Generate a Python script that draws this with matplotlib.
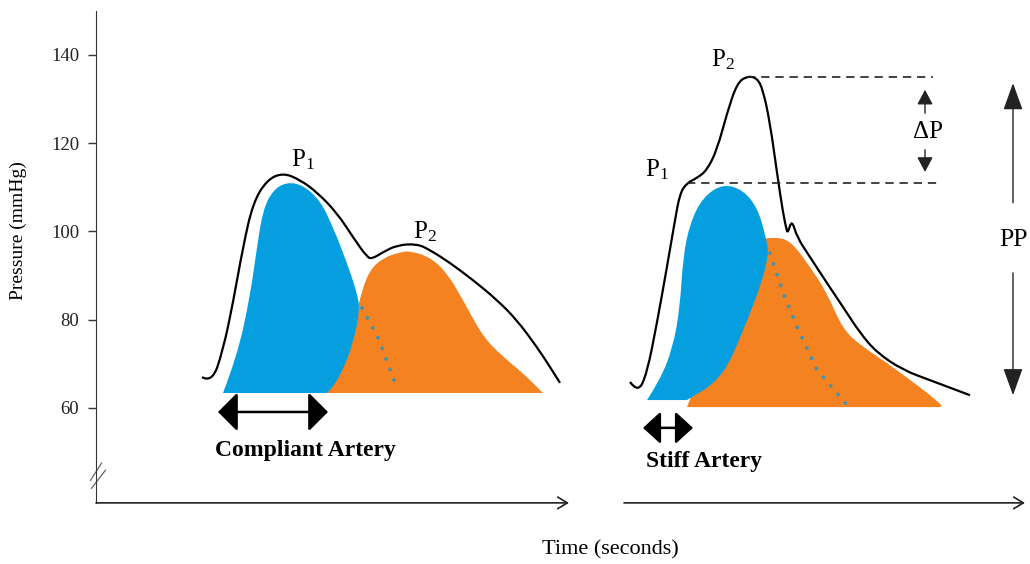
import matplotlib
matplotlib.use('Agg')
import matplotlib.pyplot as plt
from matplotlib.path import Path
from matplotlib.patches import PathPatch

plt.rcParams['font.family'] = ['Liberation Serif', 'DejaVu Serif']
plt.rcParams['mathtext.fontset'] = 'stix'

# time in ms (arbitrary schematic units), pressure in mmHg
# compliant artery
comp_t = [212, 232, 254, 274, 294, 314, 342, 374, 408, 442, 482, 514, 542, 552,
          574, 602, 642, 668, 708, 754, 802, 842, 882, 908, 928]
comp_p = [67.0, 65.7, 73.1, 83.8, 96.5, 106.5, 111.7, 113.3, 111.7, 108.9, 104.2, 98.7,
          94.2, 93.8, 95.3, 96.9, 97.2, 95.8, 92.9, 89.0, 84.5, 79.9, 73.8, 69.3, 65.7]
comp_fwd_t = [254, 282, 308, 322, 334, 354, 382, 414, 448, 474, 502, 522, 528, 514, 494, 474, 462]
comp_fwd_p = [63.4, 71.6, 85.2, 96.5, 104.9, 109.4, 111.2, 110.5, 107.1, 101.0, 92.9, 86.1,
              82.2, 74.7, 68.6, 64.8, 63.4]
comp_ref_t = [462, 488, 518, 532, 548, 574, 608, 628, 668, 702, 734, 774, 814, 854, 894]
comp_ref_p = [63.4, 68.6, 79.9, 86.7, 91.3, 94.0, 95.3, 95.6, 94.2, 90.6, 84.5, 76.1,
              71.6, 67.9, 63.4]
comp_dot_t = [532, 566, 602]
comp_dot_p = [82.7, 75.5, 64.5]

# stiff artery
stiff_t = [1068, 1084, 1102, 1122, 1142, 1158, 1168, 1182, 1202, 1222, 1242, 1262, 1282,
           1302, 1322, 1334, 1348, 1362, 1374, 1382, 1384, 1392, 1402, 1428, 1462, 1494,
           1528, 1562, 1614, 1668, 1748]
stiff_p = [65.9, 63.4, 67.9, 79.3, 92.0, 102.6, 108.7, 111.0, 112.1, 113.9, 118.5, 126.8,
           133.6, 135.2, 134.8, 132.1, 124.6, 113.3, 104.2, 99.9, 99.9, 102.6, 98.7, 94.2,
           88.3, 82.9, 77.0, 72.5, 68.6, 66.3, 62.9]
stiff_fwd_t = [1102, 1128, 1154, 1168, 1174, 1188, 1214, 1254, 1294, 1322, 1338, 1348,
               1288, 1248, 1182]
stiff_fwd_p = [61.8, 66.3, 73.8, 82.9, 94.2, 101.9, 107.8, 110.8, 109.4, 105.5, 99.7,
               93.5, 75.4, 66.3, 61.8]
stiff_ref_t = [1182, 1208, 1242, 1254, 1268, 1288, 1322, 1354, 1388, 1428, 1462, 1494,
               1534, 1594, 1694, 1688]
stiff_ref_p = [60.2, 67.9, 75.4, 82.9, 89.0, 94.2, 98.1, 98.7, 98.1, 92.0, 86.1, 77.7,
               73.8, 69.3, 60.7, 60.2]
stiff_dot_t = [1348, 1374, 1402, 1442, 1502]
stiff_dot_p = [95.1, 86.1, 78.4, 68.6, 60.7]

p1_stiff, p2_stiff = 111.0, 135.0
yticks = [60, 80, 100, 120, 140]

BLUE = '#059fe0'
ORANGE = '#f58220'
DOTS = '#3d95b0'


def smooth_path(t, p, closed=False):
    verts = [(t[0], p[0])]
    codes = [Path.MOVETO]
    for i in range(1, len(t) - 1):
        verts += [(t[i], p[i]), ((t[i] + t[i + 1]) / 2, (p[i] + p[i + 1]) / 2)]
        codes += [Path.CURVE3, Path.CURVE3]
    verts.append((t[-1], p[-1]))
    codes.append(Path.LINETO)
    if closed:
        verts.append((t[0], p[0]))
        codes.append(Path.CLOSEPOLY)
    return Path(verts, codes)


fig = plt.figure(figsize=(10.3, 5.64), dpi=100)
ax = fig.add_axes([0, 0, 1, 1])
ax.set_xlim(-192, 1868)
ax.set_ylim(24.65, 152.45)
for s in ['top', 'right', 'bottom']:
    ax.spines[s].set_visible(False)
ax.spines['left'].set_position(('data', 0))
ax.spines['left'].set_bounds(38.5, 150)
ax.spines['left'].set_color('#333333')
ax.set_xticks([])
ax.set_yticks(yticks)
ax.tick_params(axis='y', direction='out', length=6, width=1, colors='#333333',
               labelsize=13.5, pad=6)
for lab in ax.get_yticklabels():
    lab.set_color('#222222')
ax.patch.set_visible(False)

# axis break
ax.plot([-11, 11], [43.6, 47.5], color='#666666', lw=0.9)
ax.plot([-9, 19], [41.8, 45.9], color='#666666', lw=0.9)

# time axes
ax.annotate('', xy=(946, 38.5), xytext=(0, 38.5),
            arrowprops=dict(arrowstyle='->,head_length=0.5,head_width=0.3', lw=1.2, color='#222222',
                            shrinkA=0, shrinkB=0, mutation_scale=14))
ax.annotate('', xy=(1858, 38.5), xytext=(1056, 38.5),
            arrowprops=dict(arrowstyle='->,head_length=0.5,head_width=0.3', lw=1.2, color='#222222',
                            shrinkA=0, shrinkB=0, mutation_scale=14))

# waves
for rt, rp, ft, fp in [(comp_ref_t, comp_ref_p, comp_fwd_t, comp_fwd_p),
                       (stiff_ref_t, stiff_ref_p, stiff_fwd_t, stiff_fwd_p)]:
    ax.add_patch(PathPatch(smooth_path(rt, rp, True), facecolor=ORANGE, edgecolor='none'))
    ax.add_patch(PathPatch(smooth_path(ft, fp, True), facecolor=BLUE, edgecolor='none'))

for dt, dp in [(comp_dot_t, comp_dot_p), (stiff_dot_t, stiff_dot_p)]:
    ax.plot(dt, dp, color=DOTS, lw=2.8, linestyle=(0, (0.01, 2.9)), dash_capstyle='round')

for wt, wp in [(comp_t, comp_p), (stiff_t, stiff_p)]:
    ax.add_patch(PathPatch(smooth_path(wt, wp), facecolor='none', edgecolor='black', lw=1.6))

# dashed P1 / P2 levels
ax.plot([1302, 1674], [p2_stiff, p2_stiff], color='#222222', lw=1.2, linestyle=(0, (5, 3.5)))
ax.plot([1182, 1682], [p1_stiff, p1_stiff], color='#222222', lw=1.2, linestyle=(0, (5, 3.5)))

# delta P arrows
small = dict(arrowstyle='-|>,head_length=0.75,head_width=0.4', lw=1.0, color='#222222',
             shrinkA=0, shrinkB=0, mutation_scale=12)
ax.annotate('', xy=(1658, 132.1), xytext=(1658, 126.8), arrowprops=small)
ax.annotate('', xy=(1658, 113.5), xytext=(1658, 118.5), arrowprops=small)
ax.text(1664, 122.5, 'ΔP', fontsize=18, ha='center', va='center')

# PP arrows
big = dict(arrowstyle='-|>,head_length=1.05,head_width=0.38', lw=1.0, color='#222222',
           shrinkA=0, shrinkB=0, mutation_scale=16)
ax.annotate('', xy=(1834, 133.6), xytext=(1834, 106.5), arrowprops=big)
ax.annotate('', xy=(1834, 62.9), xytext=(1834, 90.6), arrowprops=big)
ax.text(1864, 98.1, 'PP', fontsize=18.5, ha='right', va='center')

# P labels
for lt, lp, lab in [(414, 116.2, 'P_1'), (658, 100.0, 'P_2'),
                    (1122, 113.9, 'P_1'), (1254, 138.9, 'P_2')]:
    ax.text(lt, lp, r'$\mathregular{%s}$' % lab, fontsize=18, ha='center', va='center')

# duration arrows
dbl = dict(arrowstyle='<|-|>,head_length=0.55,head_width=0.55', lw=1.8, color='black',
           shrinkA=0, shrinkB=0, mutation_scale=22)
ax.annotate('', xy=(464, 59.1), xytext=(244, 59.1), arrowprops=dbl)
ax.text(418, 50.3, 'Compliant Artery', fontsize=17, fontweight='bold', ha='center', va='center')
dbl2 = dict(dbl, mutation_scale=18, arrowstyle='<|-|>,head_length=0.6,head_width=0.55')
ax.annotate('', xy=(1194, 55.5), xytext=(1094, 55.5), arrowprops=dbl2)
ax.text(1100, 47.8, 'Stiff Artery', fontsize=17, fontweight='bold', ha='left', va='center')

ax.text(1028, 27.8, 'Time (seconds)', fontsize=16, ha='center', va='center')
ax.text(-156, 100.3, 'Pressure (mmHg)', fontsize=14, ha='center', va='center', rotation=90)

fig.savefig('out.png', dpi=100, facecolor='white')
